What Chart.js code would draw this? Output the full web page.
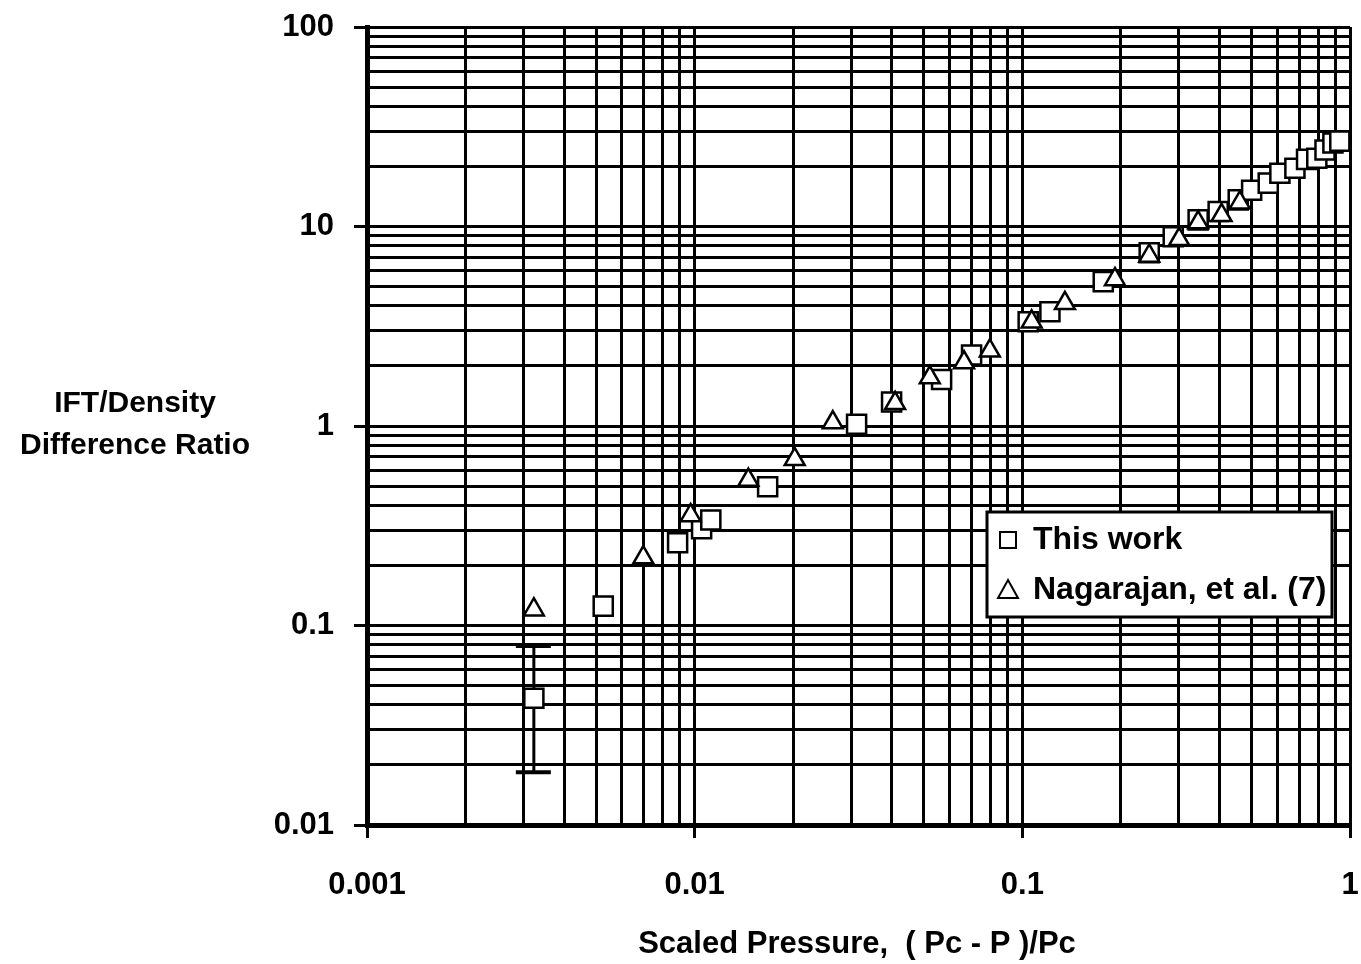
<!DOCTYPE html>
<html>
<head>
<meta charset="utf-8">
<title>IFT/Density Difference Ratio vs Scaled Pressure</title>
<script src="https://cdn.jsdelivr.net/npm/chart.js@4"></script>
<style>
  html, body { margin: 0; padding: 0; background: #ffffff; }
  #wrap { width: 1361px; height: 964px; }
</style>
</head>
<body>
<div id="wrap"><canvas id="chart" width="1361" height="964"></canvas></div>
<script>
// ---- series: scaled pressure (Pc - P)/Pc vs IFT / density-difference ratio ----
const thisWorkX = [0.00323, 0.00526, 0.00887, 0.0105, 0.0112, 0.0167, 0.0312, 0.0399, 0.0567, 0.0700,
                   0.1042, 0.1214, 0.1766, 0.2439, 0.2888, 0.344, 0.396, 0.456, 0.501, 0.563,
                   0.611, 0.679, 0.737, 0.792, 0.839, 0.887, 0.931];
const thisWorkY = [0.0432, 0.125, 0.260, 0.306, 0.338, 0.496, 1.02, 1.32, 1.71, 2.27,
                   3.33, 3.74, 5.29, 7.39, 8.89, 10.8, 11.9, 13.6, 15.2, 16.5,
                   18.5, 19.6, 21.7, 22.0, 24.2, 26.2, 26.8];
// uncertainty range for the lowest-pressure point
const thisWorkErrLow  = [0.0184];
const thisWorkErrHigh = [0.079];

const nagarajanX = [0.00323, 0.00697, 0.00972, 0.01458, 0.0202, 0.0264, 0.0409, 0.0522, 0.0664, 0.0796,
                    0.1068, 0.1349, 0.1917, 0.2439, 0.301, 0.344, 0.4056, 0.461];
const nagarajanY = [0.120, 0.219, 0.356, 0.536, 0.681, 1.04, 1.30, 1.75, 2.08, 2.38,
                    3.33, 4.12, 5.43, 7.12, 8.62, 10.46, 11.38, 13.16];

const seriesNames = ['This work', 'Nagarajan, et al. (7)'];
const xTickLabels = ['0.001', '0.01', '0.1', '1'];
const yTickLabels = ['0.01', '0.1', '1', '10', '100'];
const xTitle = 'Scaled Pressure,  ( Pc - P )/Pc';
const yTitleLines = ['IFT/Density', 'Difference Ratio'];

const FONT = '"Liberation Sans", Arial, Helvetica, sans-serif';

function toPoints(xs, ys) { return xs.map((x, i) => ({ x: x, y: ys[i] })); }

// full 1..9 grid per decade, labels only at the listed decades
function logGridTicks(scale) {
  const lo = Math.round(Math.log10(scale.min));
  const hi = Math.round(Math.log10(scale.max));
  const ticks = [];
  for (let e = lo; e < hi; e++) {
    for (let m = 1; m <= 9; m++) ticks.push({ value: m * Math.pow(10, e) });
  }
  ticks.push({ value: Math.pow(10, hi) });
  scale.ticks = ticks;
}
function labelLookup(list) {
  return function (value) {
    const v = Number(value);
    const hit = list.find(s => Math.abs(parseFloat(s) - v) <= Math.abs(v) * 1e-6);
    return hit || '';
  };
}
const xLabel = labelLookup(xTickLabels);
const yLabel = labelLookup(yTickLabels);

// fixed axis band sizes; edge labels may overhang the plot frame
function fixBand(prop, size) {
  return function (scale) {
    scale[prop] = size;
    scale.paddingLeft = scale.paddingRight = scale.paddingTop = scale.paddingBottom = 0;
  };
}

const decorations = {
  id: 'decorations',
  beforeDatasetsDraw(chart) {
    // error bar on the first "This work" point
    const ctx = chart.ctx, xs = chart.scales.x, ys = chart.scales.y;
    ctx.save();
    ctx.strokeStyle = '#000';
    thisWorkErrLow.forEach((lo, i) => {
      const hi = thisWorkErrHigh[i];
      if (lo == null || hi == null) return;
      const px = xs.getPixelForValue(thisWorkX[i]);
      const yTop = ys.getPixelForValue(hi);
      const yBot = ys.getPixelForValue(lo);
      ctx.lineWidth = 3;
      ctx.beginPath(); ctx.moveTo(px, yTop); ctx.lineTo(px, yBot); ctx.stroke();
      ctx.lineWidth = 4;
      ctx.beginPath();
      ctx.moveTo(px - 18, yTop); ctx.lineTo(px + 17, yTop);
      ctx.moveTo(px - 18, yBot); ctx.lineTo(px + 17, yBot);
      ctx.stroke();
    });
    ctx.restore();
  },
  afterDraw(chart) {
    const ctx = chart.ctx;
    ctx.save();
    ctx.fillStyle = '#000';
    // axis titles
    ctx.font = 'bold 30px ' + FONT;
    ctx.textAlign = 'center';
    ctx.textBaseline = 'middle';
    ctx.fillText(yTitleLines[0], 135, 404);
    ctx.fillText(yTitleLines[1], 135, 446);
    ctx.font = 'bold 31px ' + FONT;
    ctx.fillText(xTitle, 857, 944);

    // legend box
    const bx = 987, by = 512, bw = 345, bh = 105;
    ctx.fillStyle = '#fff';
    ctx.fillRect(bx, by, bw, bh);
    ctx.strokeStyle = '#000';
    ctx.lineWidth = 3;
    ctx.strokeRect(bx, by, bw, bh);
    const rows = [540, 590];
    chart.data.datasets.forEach((ds, i) => {
      const cy = rows[i];
      ctx.lineWidth = 2;
      ctx.strokeStyle = '#000';
      ctx.fillStyle = '#fff';
      ctx.beginPath();
      if (ds.pointStyle === 'rect') {
        ctx.rect(1000, cy - 8, 16, 16);
      } else {
        ctx.moveTo(1008, cy - 10);
        ctx.lineTo(1018, cy + 8);
        ctx.lineTo(998, cy + 8);
        ctx.closePath();
      }
      ctx.fill(); ctx.stroke();
      ctx.fillStyle = '#000';
      ctx.font = 'bold 32px ' + FONT;
      ctx.textAlign = 'left';
      ctx.textBaseline = 'middle';
      ctx.fillText(ds.label, 1033, cy);
    });
    ctx.restore();
  }
};

new Chart(document.getElementById('chart'), {
  type: 'scatter',
  data: {
    datasets: [
      {
        label: seriesNames[0],
        data: toPoints(thisWorkX, thisWorkY),
        pointStyle: 'rect',
        pointRadius: 13.5,
        pointHoverRadius: 13.5,
        borderWidth: 2.5,
        borderColor: '#000',
        backgroundColor: '#fff',
        order: 1
      },
      {
        label: seriesNames[1],
        data: toPoints(nagarajanX, nagarajanY),
        pointStyle: 'triangle',
        pointRadius: 11.5,
        pointHoverRadius: 11.5,
        borderWidth: 2.5,
        borderColor: '#000',
        backgroundColor: '#fff',
        order: 0
      }
    ]
  },
  options: {
    responsive: false,
    devicePixelRatio: 1,
    animation: false,
    events: [],
    layout: { autoPadding: false, padding: { left: 0, right: 11, top: 27, bottom: 0 } },
    plugins: { legend: { display: false }, tooltip: { enabled: false } },
    scales: {
      x: {
        type: 'logarithmic',
        min: 0.001,
        max: 1,
        afterBuildTicks: logGridTicks,
        afterFit: fixBand('height', 139),
        border: { display: true, color: '#000', width: 5 },
        grid: {
          color: '#000',
          lineWidth: 3,
          tickLength: 13,
          tickWidth: 3,
          tickColor: (c) => (c.tick && xLabel(c.tick.value)) ? '#000' : 'rgba(0,0,0,0)'
        },
        ticks: {
          autoSkip: false,
          maxRotation: 0,
          minRotation: 0,
          padding: 29,
          color: '#000',
          font: { family: FONT, size: 31, weight: 'bold' },
          callback: (v) => xLabel(v)
        }
      },
      y: {
        type: 'logarithmic',
        min: 0.01,
        max: 100,
        afterBuildTicks: logGridTicks,
        afterFit: fixBand('width', 367),
        border: { display: true, color: '#000', width: 5 },
        grid: {
          color: '#000',
          lineWidth: 3,
          tickLength: 13,
          tickWidth: 3,
          tickColor: (c) => (c.tick && yLabel(c.tick.value)) ? '#000' : 'rgba(0,0,0,0)'
        },
        ticks: {
          autoSkip: false,
          padding: 20,
          color: '#000',
          font: { family: FONT, size: 31, weight: 'bold' },
          callback: (v) => yLabel(v)
        }
      }
    }
  },
  plugins: [decorations]
});
</script>
</body>
</html>
